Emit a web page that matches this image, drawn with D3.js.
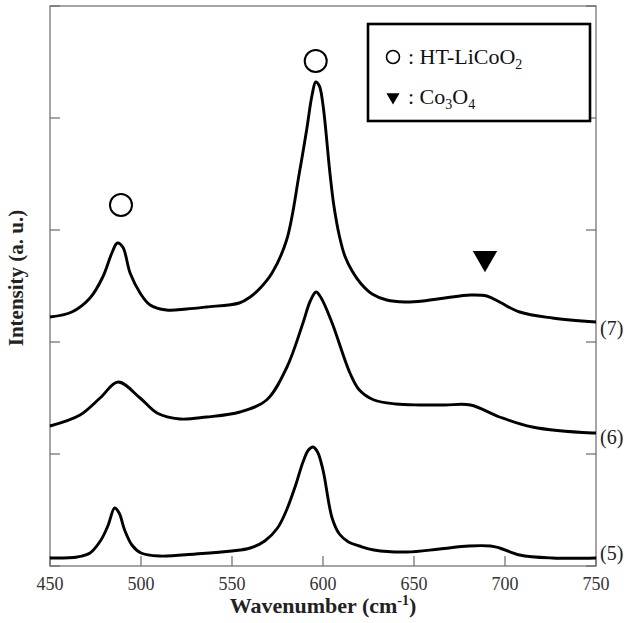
<!DOCTYPE html>
<html>
<head>
<meta charset="utf-8">
<script src="https://cdn.jsdelivr.net/npm/d3@7"></script>
<style>
  body { margin: 0; background: #fff; }
</style>
</head>
<body>
<div class="canvas"></div>
<script>
// spectrum (7)
const wave7 = [450, 462, 472, 479, 484, 487, 490, 494, 499.5, 505, 514, 525, 536, 554, 560, 565, 572, 580, 587, 591, 594, 596, 598, 600, 603.8, 606, 609, 612, 616, 621, 627, 635, 645, 655, 667, 681, 690, 697, 708, 726, 750];
const int7 = [249, 254, 268, 289, 313, 323, 319, 293, 273, 261, 256, 257, 259, 263, 269, 277, 293, 326, 393, 436, 471, 484, 480, 461, 393, 360, 330, 310, 295, 282, 272, 266, 264, 265, 268, 271, 270, 264, 254, 248, 244];

// spectrum (6)
const wave6 = [450, 466.5, 477.5, 487.4, 499.5, 508.8, 521.4, 536, 554.4, 569, 580.2, 589, 593, 596.2, 599, 605, 614.8, 620, 628, 640, 653, 667, 681, 697, 715, 748, 750];
const int6 = [140, 151, 168, 184, 168, 153, 147, 149, 154, 166, 199, 243, 265, 274, 268, 243, 193, 176, 166, 162, 161, 161, 161, 149, 139, 133, 133];

// spectrum (5)
const wave5 = [450, 465, 472, 478, 482, 485.5, 488, 491, 495, 500, 510, 530, 550, 560, 568, 575, 580, 585, 589, 592, 594.5, 597, 600, 605, 609, 614, 620, 628, 646, 664, 680, 692, 697, 708, 726, 750];
const int5 = [8, 9, 13, 26, 41, 58, 53, 36, 21, 13, 10, 12, 15, 18, 25, 38, 56, 81, 104, 116, 119, 114, 96, 48, 32, 24, 20, 16, 14, 17, 20, 20, 18, 11, 8, 8];

const curveNames = ["(7)", "(6)", "(5)"];
const labelInt = [238, 129, 13];

const xTicks = [450, 500, 550, 600, 650, 700, 750];
const yTicks = [0, 112, 224, 336, 448, 560];

// peak markers
const circleWave = [489, 596];
const circleInt = [361, 505];
const triWave = [689];
const triInt = [308];

const W = 630, H = 623;
const mLeft = 50, mRight = 596, mTop = 6, mBottom = 566;
const serif = "'Liberation Serif', 'Times New Roman', 'DejaVu Serif', serif";

const svg = d3.select(".canvas").append("svg")
  .attr("width", W).attr("height", H)
  .attr("font-family", serif);

const x = d3.scaleLinear().domain([450, 750]).range([mLeft, mRight]);
const y = d3.scaleLinear().domain([0, 560]).range([mBottom, mTop]);

const axisColor = "#6a6a6a";

// frame
svg.append("rect")
  .attr("x", mLeft).attr("y", mTop)
  .attr("width", mRight - mLeft).attr("height", mBottom - mTop)
  .attr("fill", "none").attr("stroke", axisColor).attr("stroke-width", 1.2);

// ticks pointing in
svg.selectAll(".xt").data(xTicks).join("line")
  .attr("x1", d => x(d)).attr("x2", d => x(d))
  .attr("y1", mBottom).attr("y2", mBottom - 10)
  .attr("stroke", axisColor).attr("stroke-width", 1.2);
svg.selectAll(".yl").data(yTicks).join("line")
  .attr("x1", mLeft).attr("x2", mLeft + 10)
  .attr("y1", d => y(d)).attr("y2", d => y(d))
  .attr("stroke", axisColor).attr("stroke-width", 1.2);
svg.selectAll(".yr").data(yTicks).join("line")
  .attr("x1", mRight).attr("x2", mRight - 10)
  .attr("y1", d => y(d)).attr("y2", d => y(d))
  .attr("stroke", axisColor).attr("stroke-width", 1.2);

svg.selectAll(".xl").data(xTicks).join("text")
  .attr("x", d => x(d)).attr("y", mBottom + 24)
  .attr("text-anchor", "middle")
  .attr("font-size", 18).attr("fill", "#333")
  .text(d => d);

// axis titles
const xt = svg.append("text")
  .attr("x", (mLeft + mRight) / 2).attr("y", 613)
  .attr("text-anchor", "middle")
  .attr("font-size", 22).attr("font-weight", "bold").attr("fill", "#222");
xt.append("tspan").text("Wavenumber (cm");
xt.append("tspan").attr("font-size", 14).attr("dy", -8).text("-1");
xt.append("tspan").attr("dy", 8).text(")");

svg.append("text")
  .attr("transform", `translate(23,${(mTop + mBottom) / 2 - 8}) rotate(-90)`)
  .attr("text-anchor", "middle")
  .attr("font-size", 21).attr("font-weight", "bold").attr("fill", "#222")
  .text("Intensity (a. u.)");

// spectra
const line = d3.line()
  .x(d => x(d[0])).y(d => y(d[1]))
  .curve(d3.curveCatmullRom.alpha(0.5));

const spectra = [
  d3.zip(wave7, int7),
  d3.zip(wave6, int6),
  d3.zip(wave5, int5),
];

svg.selectAll(".spec").data(spectra).join("path")
  .attr("d", line)
  .attr("fill", "none")
  .attr("stroke", "#000")
  .attr("stroke-width", 2.9)
  .attr("stroke-linejoin", "round");

svg.selectAll(".cl").data(curveNames).join("text")
  .attr("x", mRight + 4)
  .attr("y", (d, i) => y(labelInt[i]))
  .attr("dy", "0.35em")
  .attr("font-size", 20).attr("fill", "#222")
  .text(d => d);

// markers
svg.selectAll(".pc").data(circleWave).join("circle")
  .attr("cx", d => x(d))
  .attr("cy", (d, i) => y(circleInt[i]))
  .attr("r", 11)
  .attr("fill", "none").attr("stroke", "#000").attr("stroke-width", 2);

const tri = d3.symbol().type(d3.symbolTriangle).size(260);
svg.selectAll(".pt").data(triWave).join("path")
  .attr("d", tri)
  .attr("transform", (d, i) => `translate(${x(d)},${y(triInt[i])}) rotate(180)`)
  .attr("fill", "#000");

// legend
const lg = svg.append("g");
lg.append("rect")
  .attr("x", 368).attr("y", 24).attr("width", 222).attr("height", 97)
  .attr("fill", "#fff").attr("stroke", "#000").attr("stroke-width", 2.6);
lg.append("circle")
  .attr("cx", 393).attr("cy", 57).attr("r", 6.5)
  .attr("fill", "none").attr("stroke", "#000").attr("stroke-width", 1.6);
const t1 = lg.append("text").attr("x", 408).attr("y", 64)
  .attr("font-size", 22).attr("fill", "#111");
t1.append("tspan").text(": HT-LiCoO");
t1.append("tspan").attr("font-size", 14).attr("dy", 5).text("2");

lg.append("path")
  .attr("d", d3.symbol().type(d3.symbolTriangle).size(75))
  .attr("transform", "translate(393,97) rotate(180)")
  .attr("fill", "#000");
const t2 = lg.append("text").attr("x", 408).attr("y", 104)
  .attr("font-size", 22).attr("fill", "#111");
t2.append("tspan").text(": Co");
t2.append("tspan").attr("font-size", 14).attr("dy", 5).text("3");
t2.append("tspan").attr("dy", -5).text("O");
t2.append("tspan").attr("font-size", 14).attr("dy", 5).text("4");
</script>
</body>
</html>
